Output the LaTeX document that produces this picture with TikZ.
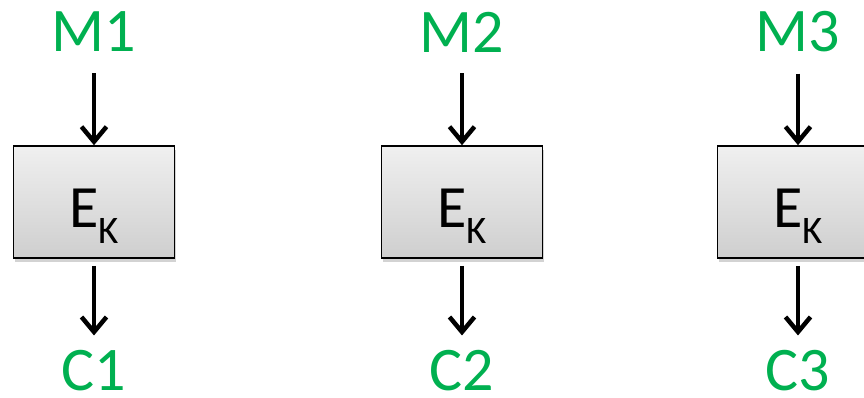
\documentclass[tikz,border=0pt]{standalone}
\usepackage{fontspec}
\setmainfont{Carlito}
\usetikzlibrary{arrows.meta, positioning, shadows}
\definecolor{msggreen}{RGB}{0, 176, 80}
\newcommand{\EK}{E\raisebox{-16pt}{\fontsize{39}{39}\selectfont K}}

\begin{document}
\begin{tikzpicture}[x=1pt, y=-1pt,
    msg/.style={text=msggreen, inner sep=0pt, font=\fontsize{62}{62}\selectfont},
    cipher/.style={draw, line width=1.6pt, minimum width=161pt, minimum height=112pt,
        top color=gray!12, bottom color=gray!38,
        drop shadow={shadow xshift=1pt, shadow yshift=-4pt, opacity=0.35},
        text height=50pt, text depth=0pt, font=\fontsize{60}{60}\selectfont},
    arrow/.style={-{Straight Barb[length=15pt,width=25pt]}, line width=4.5pt}
]
\useasboundingbox (0,0) rectangle (864,397);

% Plaintext blocks
\node[msg] (m1) at (94, 32) {M1};
\node[msg] (m2) at (462, 32) {M2};
\node[msg] (m3) at (798, 32) {M3};

% Encryption boxes
\node[cipher] (enc1) at (94, 202) {\EK};
\node[cipher] (enc2) at (462, 202) {\EK};
\node[cipher] (enc3) at (798, 202) {\EK};

% Ciphertext blocks
\node[msg] (c1) at (94, 371) {C1};
\node[msg] (c2) at (462, 371) {C2};
\node[msg] (c3) at (798, 371) {C3};

% Arrows
\draw[arrow, shorten <=21pt] (m1) -- (enc1);
\draw[arrow, shorten <=21pt] (m2) -- (enc2);
\draw[arrow, shorten <=21pt] (m3) -- (enc3);

\draw[arrow, shorten <=7pt, shorten >=15pt] (enc1) -- (c1);
\draw[arrow, shorten <=7pt, shorten >=15pt] (enc2) -- (c2);
\draw[arrow, shorten <=7pt, shorten >=15pt] (enc3) -- (c3);

\end{tikzpicture}
\end{document}
